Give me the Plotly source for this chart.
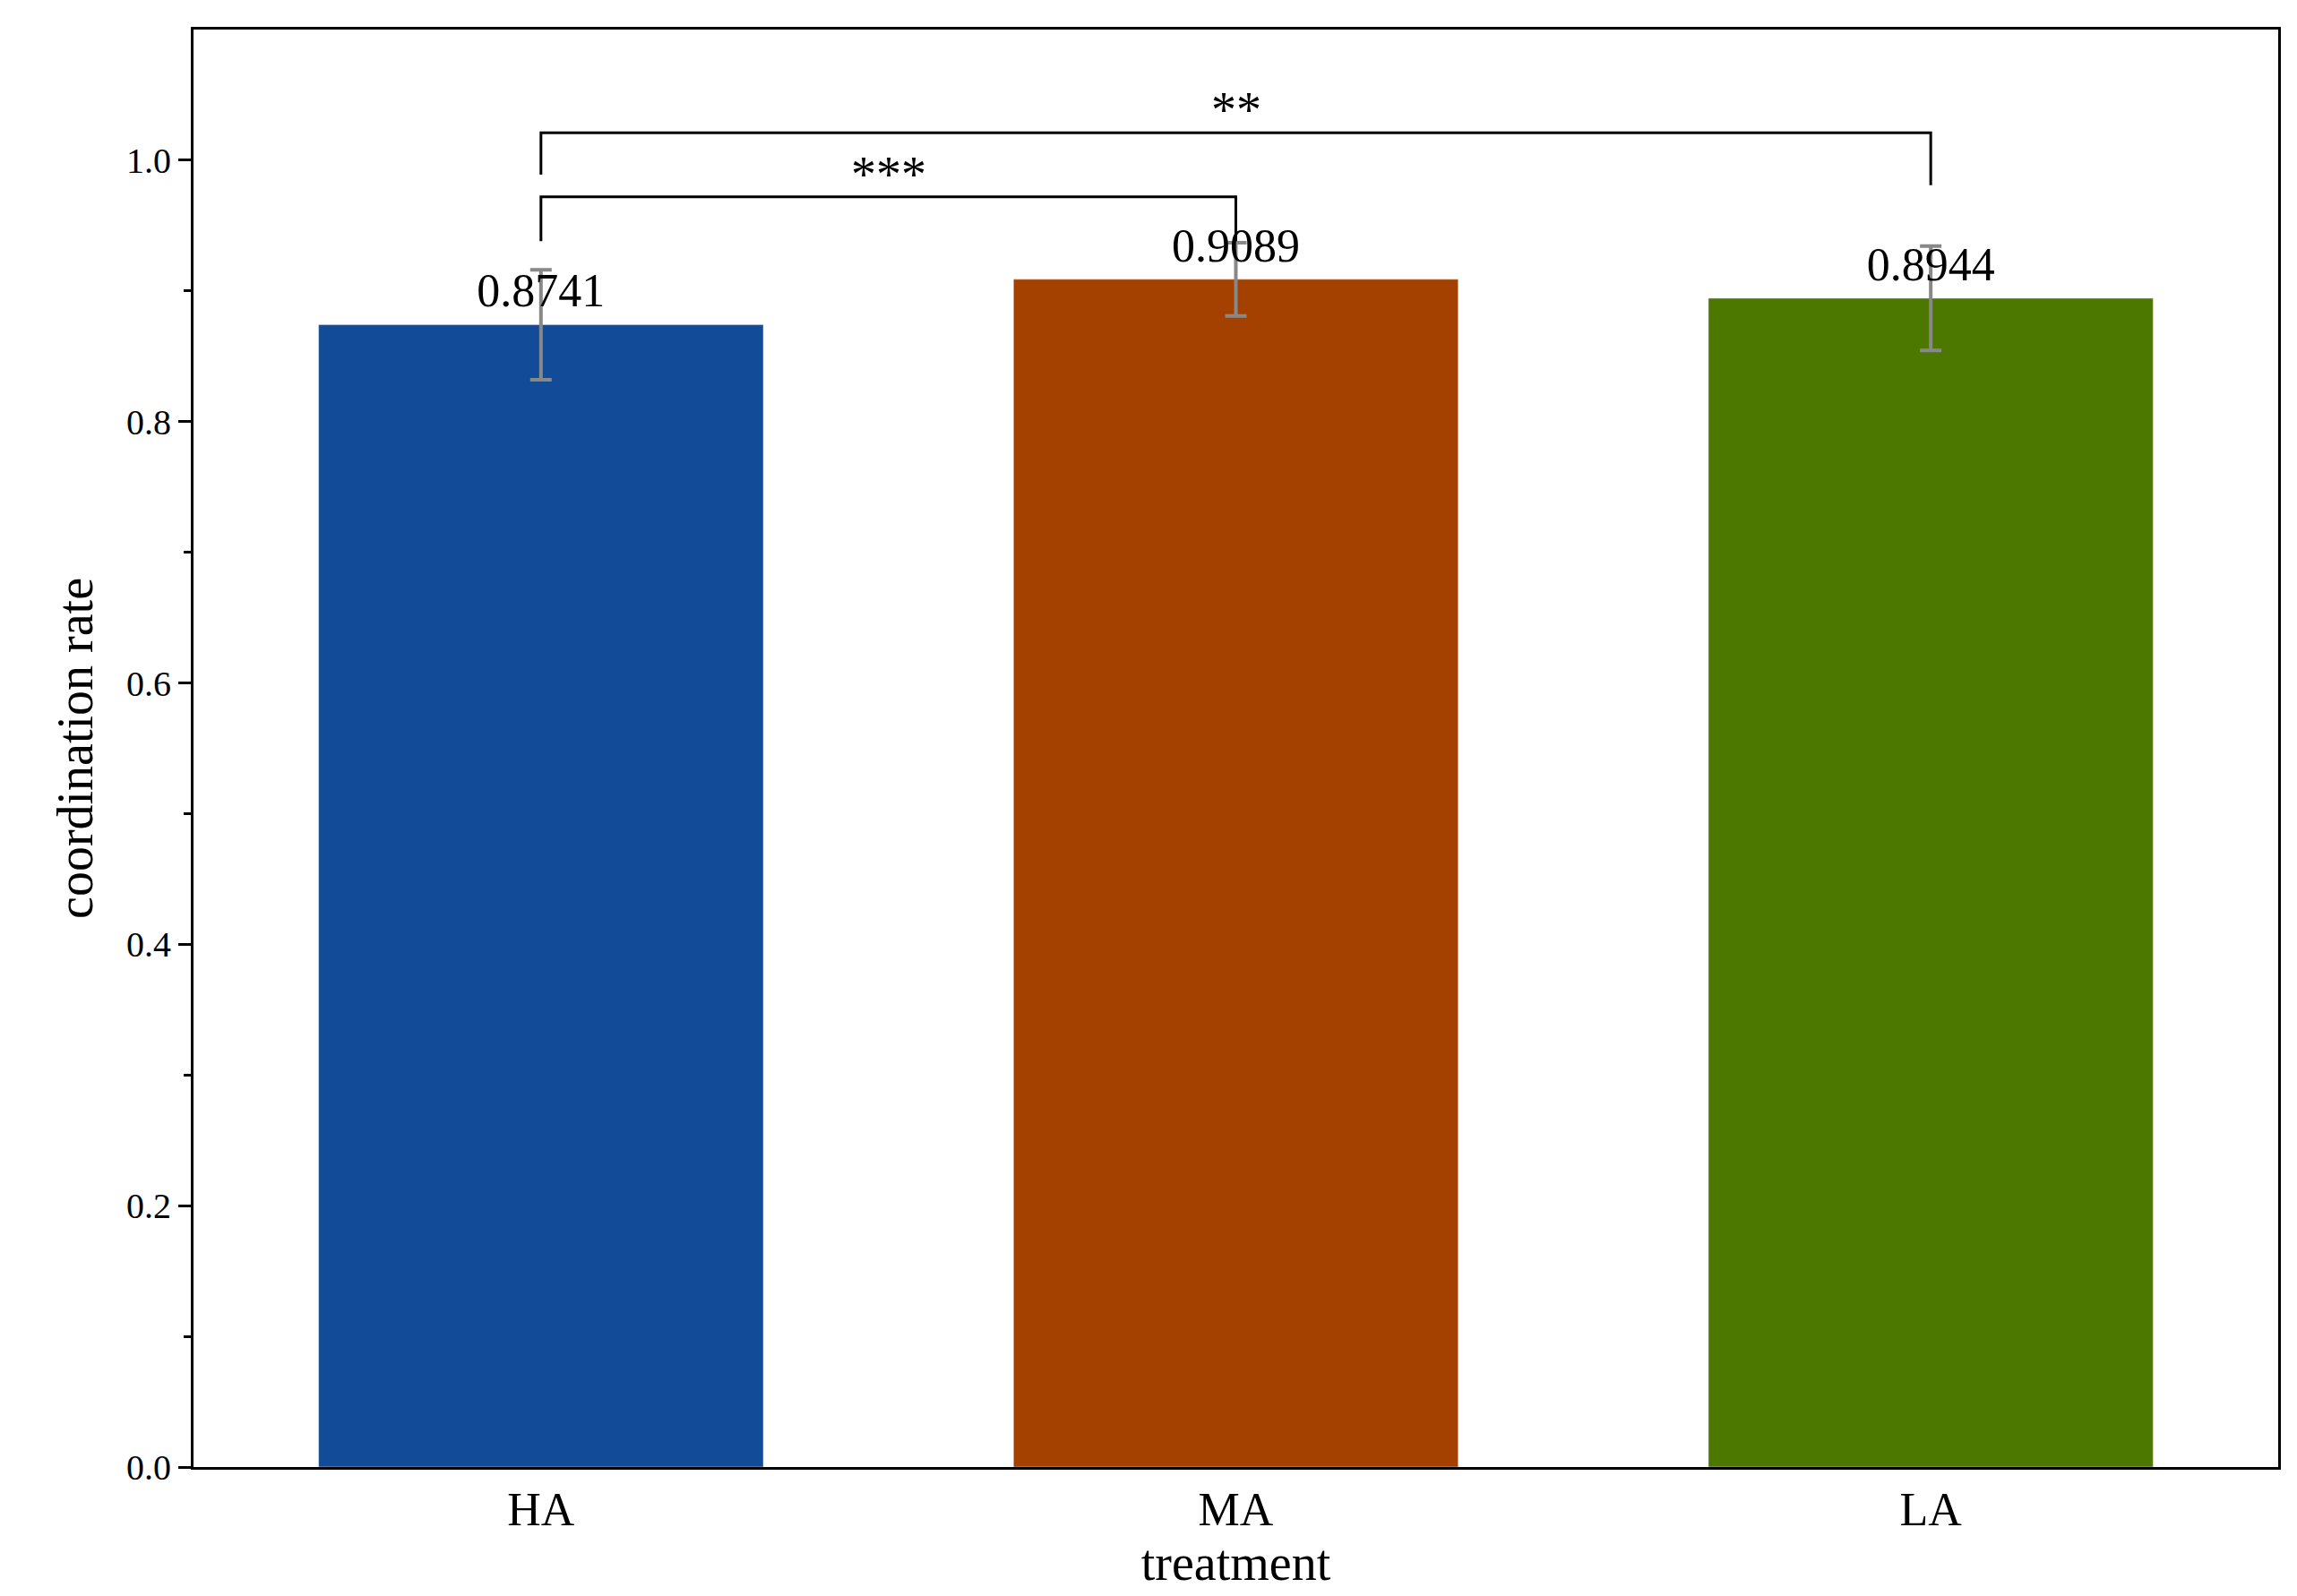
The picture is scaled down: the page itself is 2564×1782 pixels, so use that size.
import plotly.graph_objects as go

categories = ["HA", "MA", "LA"]
values = [0.8741, 0.9089, 0.8944]
errors = [0.042, 0.028, 0.040]
colors = ["#124b97", "#a54100", "#4c7800"]
labels = ["0.8741", "0.9089", "0.8944"]
brackets = [("HA", "MA", 0.972, 0.938, 0.938, "***"), ("HA", "LA", 1.021, 0.989, 0.981, "**")]

F = "Liberation Serif"
fig = go.Figure()
fig.add_trace(go.Bar(x=categories, y=values, marker_color=colors, width=0.64,
                     error_y=dict(type="data", array=errors, color="#888888", thickness=4, width=12),
                     showlegend=False))
fig.add_trace(go.Scatter(x=categories, y=[v + 0.005 for v in values], text=labels, mode="text",
                         textposition="top center", textfont=dict(family=F, size=52, color="black"),
                         showlegend=False, cliponaxis=False))
for a, b, yt, ya, yb, s in brackets:
    fig.add_trace(go.Scatter(x=[a, a, b, b], y=[ya, yt, yt, yb], mode="lines",
                             line=dict(color="black", width=3), showlegend=False))
    ia, ib = categories.index(a), categories.index(b)
    fig.add_annotation(x=(ia + ib) / 2, y=yt, text=s, showarrow=False, yanchor="bottom",
                       font=dict(family=F, size=56, color="black"), yshift=-8)

fig.update_layout(width=2564, height=1782, plot_bgcolor="white", paper_bgcolor="white",
                  margin=dict(l=208, r=29, t=25, b=152), bargap=0.36)
fig.update_xaxes(range=[-0.5, 2.5], showline=True, mirror=True, linecolor="black", linewidth=3,
                 ticks="", tickfont=dict(family=F, size=52, color="black"),
                 title=dict(text="treatment", font=dict(family=F, size=56, color="black"), standoff=0))
fig.update_yaxes(range=[0, 1.1], tickvals=[0, 0.2, 0.4, 0.6, 0.8, 1.0], ticktext=["0.0", "0.2", "0.4", "0.6", "0.8", "1.0"],
                 showline=True, mirror=True, linecolor="black", linewidth=3, showgrid=False, zeroline=False,
                 ticks="outside", ticklen=14, tickwidth=3, tickcolor="black",
                 minor=dict(tickvals=[0.1, 0.3, 0.5, 0.7, 0.9], ticks="outside", ticklen=8, tickwidth=3, tickcolor="black"),
                 tickfont=dict(family=F, size=40, color="black"),
                 title=dict(text="coordination rate", font=dict(family=F, size=56, color="black"), standoff=20))
fig.write_html("out.html")
